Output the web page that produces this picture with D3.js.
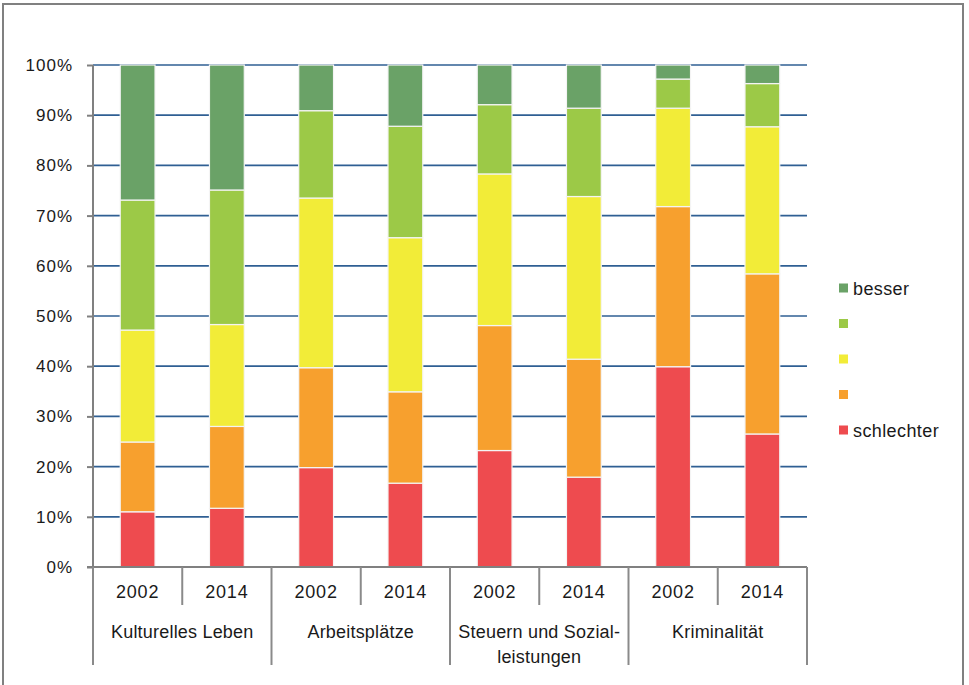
<!DOCTYPE html>
<html>
<head>
<meta charset="utf-8">
<script src="https://cdn.jsdelivr.net/npm/d3@7"></script>
<style>
  body { margin: 0; background: #fff; }
  svg { display: block; }
  text { font-family: "Liberation Sans", Arial, sans-serif; fill: #1a1a1a; }
</style>
</head>
<body>
<script>
const width = 969, height = 685;

// Data (percent shares per bar, bottom -> top)
const topics = ["Kulturelles Leben", "Arbeitsplätze", "Steuern und Sozial-\nleistungen", "Kriminalität"];
const years = ["2002", "2014"];
const keys = ["schlechter", "k2", "k3", "k4", "besser"];
const legendLabels = ["besser", "", "", "", "schlechter"];
const colors = ["#ee4b4f", "#f7a02e", "#f2ec38", "#9cc947", "#6aa267"];

const schlechter = [11.0, 11.7, 19.8, 16.7, 23.2, 17.9, 39.9, 26.5];
const k2         = [13.9, 16.3, 19.9, 18.2, 24.9, 23.5, 31.9, 31.9];
const k3         = [22.3, 20.3, 33.8, 30.7, 30.2, 32.4, 19.6, 29.3];
const k4         = [25.9, 26.8, 17.4, 22.2, 13.8, 17.6,  5.8,  8.6];
const besser     = [26.9, 24.9,  9.1, 12.2,  7.9,  8.6,  2.8,  3.7];
const yTicks = [0, 10, 20, 30, 40, 50, 60, 70, 80, 90, 100];

const rows = [];
topics.forEach((t, i) => years.forEach((yr, j) => {
  const n = i * 2 + j;
  rows.push({id: `${i}-${yr}`, topic: t, year: yr,
    schlechter: schlechter[n], k2: k2[n], k3: k3[n], k4: k4[n], besser: besser[n]});
}));

const margin = {left: 93, top: 65, right: 162, bottom: 118};
const w = width - margin.left - margin.right;
const h = height - margin.top - margin.bottom;

const svg = d3.select("body").append("svg")
  .attr("width", width).attr("height", height);

// outer frame
svg.append("rect")
  .attr("x", 3).attr("y", 4).attr("width", 960).attr("height", 700)
  .attr("fill", "none").attr("stroke", "#808080").attr("stroke-width", 2);

const g = svg.append("g").attr("transform", `translate(${margin.left},${margin.top})`);

const x = d3.scaleBand().domain(rows.map(d => d.id)).range([0, w]).paddingInner(0.61).paddingOuter(0.305);
const xOuter = d3.scaleBand().domain(rows.map(d => d.id)).range([0, w]);
const y = d3.scaleLinear().domain([0, 100]).range([h, 0]);

// gridlines
g.append("g")
  .selectAll("line")
  .data(yTicks.filter(d => d > 0))
  .enter().append("line")
    .attr("x1", 0).attr("x2", w)
    .attr("y1", d => y(d)).attr("y2", d => y(d))
    .attr("stroke", "#2f5f93").attr("stroke-width", 1.7);

// y axis
g.append("g")
  .call(d3.axisLeft(y).tickValues(yTicks).tickFormat(d => d + "%").tickSize(6).tickPadding(14))
  .call(a => a.selectAll("line, path").attr("stroke", "#808080").attr("stroke-width", 2))
  .call(a => a.select(".domain").attr("d", `M0,${h}V0`))
  .selectAll("text")
    .style("font-size", "17px")
    .style("letter-spacing", "1px")
    .attr("fill", "#1a1a1a");

// stacked bars
const series = d3.stack().keys(keys)(rows);
g.append("g")
  .selectAll("g")
  .data(series)
  .enter().append("g")
    .attr("fill", (d, i) => colors[i])
  .selectAll("rect")
  .data(d => d)
  .enter().append("rect")
    .attr("x", d => x(d.data.id))
    .attr("width", x.bandwidth())
    .attr("y", d => y(d[1]))
    .attr("height", d => y(d[0]) - y(d[1]))
    .attr("stroke", "#f4f4f4")
    .attr("stroke-width", 1.2);

// x axis: baseline and separators
const xa = g.append("g").attr("transform", `translate(0,${h})`);
xa.append("line").attr("x1", -6).attr("x2", w).attr("y1", 0).attr("y2", 0)
  .attr("stroke", "#808080").attr("stroke-width", 2);

const seps = d3.range(rows.length + 1);
xa.selectAll("line.sep")
  .data(seps)
  .enter().append("line")
    .attr("class", "sep")
    .attr("x1", i => i * xOuter.step()).attr("x2", i => i * xOuter.step())
    .attr("y1", 0)
    .attr("y2", i => i % 2 === 0 ? 98 : 38)
    .attr("stroke", "#8a8a8a").attr("stroke-width", 2);

xa.selectAll("text.year")
  .data(rows)
  .enter().append("text")
    .attr("class", "year")
    .attr("x", d => xOuter(d.id) + xOuter.bandwidth() / 2)
    .attr("y", 31)
    .attr("text-anchor", "middle")
    .style("font-size", "18px")
    .style("letter-spacing", "0.8px")
    .text(d => d.year);

xa.selectAll("text.topic")
  .data(topics)
  .enter().append("text")
    .attr("class", "topic")
    .attr("x", (d, i) => (i * 2 + 1) * xOuter.step())
    .attr("y", 71)
    .attr("text-anchor", "middle")
    .style("font-size", "18px")
    .style("letter-spacing", "0.2px")
    .each(function(d) {
      d.split("\n").forEach((line, k) => {
        d3.select(this).append("tspan")
          .attr("x", d3.select(this).attr("x"))
          .attr("dy", k === 0 ? 0 : 25)
          .text(line);
      });
    });

// legend
const legend = svg.append("g").attr("transform", "translate(839,288)");
const legendColors = colors.slice().reverse();
const item = legend.selectAll("g")
  .data(legendLabels)
  .enter().append("g")
    .attr("transform", (d, i) => `translate(0,${i * 35.5})`);
item.append("rect")
  .attr("x", 0).attr("y", -4.5).attr("width", 9).attr("height", 9)
  .attr("fill", (d, i) => legendColors[i]);
item.append("text")
  .attr("x", 14).attr("y", 6.5)
  .style("font-size", "18px")
  .style("letter-spacing", "0.4px")
  .text(d => d);
</script>
</body>
</html>
